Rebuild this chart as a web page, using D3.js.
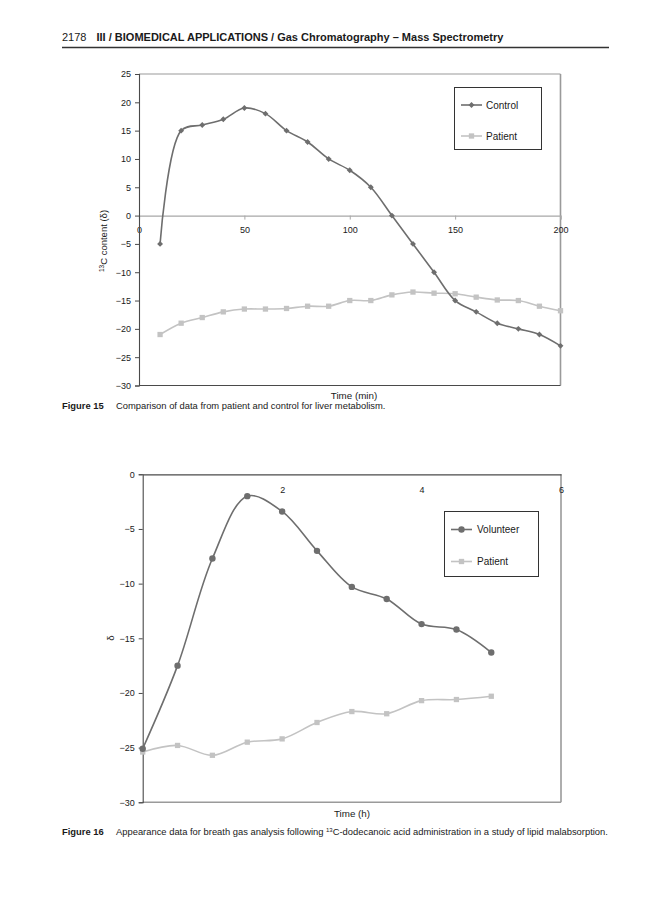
<!DOCTYPE html>
<html>
<head>
<meta charset="utf-8">
<script src="https://cdn.jsdelivr.net/npm/d3@7"></script>
<style>
  html, body { margin: 0; padding: 0; background: #fff; }
  svg { display: block; }
  text { font-family: "Liberation Sans", Arial, Helvetica, sans-serif; fill: #1a1a1a; }
</style>
</head>
<body>
<svg id="page" width="668" height="900"></svg>
<script>
// ---------- DATA ----------
const fig15Times = [10, 20, 30, 40, 50, 60, 70, 80, 90, 100, 110, 120, 130, 140, 150, 160, 170, 180, 190, 200];
const fig15Control = [-5, 15, 16, 17, 19, 18, 15, 13, 10, 8, 5, 0, -5, -10, -15, -17, -19, -20, -21, -23];
const fig15Patient = [-21, -19, -18, -17, -16.5, -16.5, -16.4, -16, -16, -15, -15, -14, -13.5, -13.7, -13.8, -14.4, -14.9, -15, -16, -16.8];
const fig15XTicks = [0, 50, 100, 150, 200];
const fig15YTicks = [25, 20, 15, 10, 5, 0, -5, -10, -15, -20, -25, -30];
const fig15Series = ["Control", "Patient"];

const fig16Times = [0, 0.5, 1, 1.5, 2, 2.5, 3, 3.5, 4, 4.5, 5];
const fig16Volunteer = [-25.1, -17.5, -7.7, -2, -3.4, -7, -10.3, -11.4, -13.7, -14.2, -16.3];
const fig16Patient = [-25.4, -24.8, -25.7, -24.5, -24.2, -22.7, -21.7, -21.9, -20.7, -20.6, -20.3];
const fig16XTicks = [2, 4, 6];
const fig16YTicks = [0, -5, -10, -15, -20, -25, -30];
const fig16Series = ["Volunteer", "Patient"];

// ---------- STYLE ----------
const darkLine = "#6e6e6e";
const lightLine = "#c3c3c3";
const axisDark = "#4a4a4a";
const frameGrey = "#9a9a9a";
const fmt = v => (v < 0 ? "\u2212" + Math.abs(v) : String(v));

const svg = d3.select("#page");
svg.append("rect").attr("width", 668).attr("height", 900).attr("fill", "#fff");

// ---------- HEADER ----------
const hdr = svg.append("text").attr("x", 62).attr("y", 41).attr("font-size", 11);
hdr.append("tspan").text("2178");
hdr.append("tspan").attr("dx", 10).attr("font-weight", "bold")
   .text("III / BIOMEDICAL APPLICATIONS / Gas Chromatography \u2013 Mass Spectrometry");
svg.append("line").attr("x1", 62).attr("x2", 609).attr("y1", 47.5).attr("y2", 47.5)
   .attr("stroke", "#333").attr("stroke-width", 1.3);

const smooth = d3.curveCatmullRom.alpha(0.5);

function diamond(g, x, y, color) {
  g.append("path").attr("d", d3.symbol(d3.symbolDiamond2, 22)()).attr("transform", `translate(${x},${y})`).attr("fill", color);
}
function square(g, x, y, color) {
  g.append("path").attr("d", d3.symbol(d3.symbolSquare, 28)()).attr("transform", `translate(${x},${y})`).attr("fill", color);
}
function circle(g, x, y, color) {
  g.append("circle").attr("cx", x).attr("cy", y).attr("r", 3.2).attr("fill", color);
}

// ================= FIGURE 15 =================
(function () {
  const g = svg.append("g");
  const x = d3.scaleLinear().domain([0, 200]).range([139, 560.5]);
  const y = d3.scaleLinear().domain([-30, 25]).range([385.5, 74]);

  // frame
  g.append("line").attr("x1", x(0)).attr("x2", x(200)).attr("y1", y(25)).attr("y2", y(25)).attr("stroke", frameGrey).attr("stroke-width", 1.2);
  g.append("line").attr("x1", x(200)).attr("x2", x(200)).attr("y1", y(25)).attr("y2", y(-30)).attr("stroke", frameGrey).attr("stroke-width", 1.6);
  g.append("line").attr("x1", x(0)).attr("x2", x(200)).attr("y1", y(-30)).attr("y2", y(-30)).attr("stroke", axisDark).attr("stroke-width", 1.1);

  // x axis at zero
  const xa = g.append("g").attr("transform", `translate(0,${y(0)})`)
    .call(d3.axisBottom(x).tickValues(fig15XTicks).tickSize(4).tickPadding(7).tickFormat(fmt));
  xa.select(".domain").attr("stroke", "#a8a8a8").attr("stroke-width", 1.2);
  xa.selectAll(".tick line").attr("stroke", "#a8a8a8");
  xa.selectAll(".tick text").attr("font-size", 9).attr("fill", "#1a1a1a").attr("font-family", "Liberation Sans, Arial, sans-serif");

  // y axis
  const ya = g.append("g").attr("transform", `translate(${x(0)},0)`)
    .call(d3.axisLeft(y).tickValues(fig15YTicks).tickSize(4).tickPadding(4).tickFormat(fmt));
  ya.select(".domain").attr("stroke", axisDark).attr("stroke-width", 1.1);
  ya.selectAll(".tick line").attr("stroke", axisDark);
  ya.selectAll(".tick text").attr("font-size", 9).attr("fill", "#1a1a1a").attr("font-family", "Liberation Sans, Arial, sans-serif");

  // lines
  const ctrl = fig15Times.map((t, i) => [t, fig15Control[i]]);
  const pat = fig15Times.map((t, i) => [t, fig15Patient[i]]);
  const line = d3.line().x(d => x(d[0])).y(d => y(d[1])).curve(smooth);
  g.append("path").attr("d", line(pat)).attr("fill", "none").attr("stroke", lightLine).attr("stroke-width", 1.6);
  pat.forEach(d => square(g, x(d[0]), y(d[1]), lightLine));
  g.append("path").attr("d", line(ctrl)).attr("fill", "none").attr("stroke", darkLine).attr("stroke-width", 1.6);
  ctrl.forEach(d => diamond(g, x(d[0]), y(d[1]), darkLine));

  // axis titles
  g.append("text").attr("x", 354).attr("y", 399).attr("text-anchor", "middle").attr("font-size", 9.8).text("Time (min)");
  const yl = g.append("text").attr("transform", "translate(107,241) rotate(-90)").attr("text-anchor", "middle").attr("font-size", 9.5);
  yl.append("tspan").attr("font-size", 6.5).attr("dy", -3.5).text("13");
  yl.append("tspan").attr("dy", 3.5).text("C content (\u03b4)");

  // legend
  const lg = g.append("g");
  lg.append("rect").attr("x", 454.5).attr("y", 87.5).attr("width", 87).attr("height", 62).attr("fill", "#fff").attr("stroke", "#333").attr("stroke-width", 1);
  const ly = [105, 136];
  const lc = [darkLine, lightLine];
  fig15Series.forEach((name, i) => {
    lg.append("line").attr("x1", 461).attr("x2", 482).attr("y1", ly[i]).attr("y2", ly[i]).attr("stroke", lc[i]).attr("stroke-width", 1.6);
    if (i === 0) diamond(lg, 471.5, ly[i], lc[i]); else square(lg, 471.5, ly[i], lc[i]);
    lg.append("text").attr("x", 486).attr("y", ly[i] + 3.5).attr("font-size", 10).text(name);
  });

  // caption
  const cap = svg.append("text").attr("x", 62).attr("y", 409).attr("font-size", 9.4);
  cap.append("tspan").attr("font-weight", "bold").text("Figure 15");
  cap.append("tspan").attr("x", 116).text("Comparison of data from patient and control for liver metabolism.");
})();

// ================= FIGURE 16 =================
(function () {
  const g = svg.append("g");
  const x = d3.scaleLinear().domain([0, 6]).range([142.7, 561]);
  const y = d3.scaleLinear().domain([-30, 0]).range([802.3, 474.3]);

  // frame
  g.append("line").attr("x1", x(6)).attr("x2", x(6)).attr("y1", y(0)).attr("y2", y(-30)).attr("stroke", frameGrey).attr("stroke-width", 1.6);
  g.append("line").attr("x1", x(0)).attr("x2", x(6)).attr("y1", y(-30)).attr("y2", y(-30)).attr("stroke", frameGrey).attr("stroke-width", 1.4);

  // x axis along the top (y = 0)
  const xa = g.append("g").attr("transform", `translate(0,${y(0)})`)
    .call(d3.axisBottom(x).tickValues(fig16XTicks).tickSize(0).tickPadding(12).tickFormat(fmt));
  xa.select(".domain").attr("stroke", axisDark).attr("stroke-width", 1.2);
  xa.selectAll(".tick text").attr("font-size", 9).attr("fill", "#1a1a1a").attr("font-family", "Liberation Sans, Arial, sans-serif");

  // y axis
  const ya = g.append("g").attr("transform", `translate(${x(0)},0)`)
    .call(d3.axisLeft(y).tickValues(fig16YTicks).tickSize(4).tickPadding(4).tickFormat(fmt));
  ya.select(".domain").attr("stroke", axisDark).attr("stroke-width", 1.1);
  ya.selectAll(".tick line").attr("stroke", axisDark);
  ya.selectAll(".tick text").attr("font-size", 9).attr("fill", "#1a1a1a").attr("font-family", "Liberation Sans, Arial, sans-serif");

  const vol = fig16Times.map((t, i) => [t, fig16Volunteer[i]]);
  const pat = fig16Times.map((t, i) => [t, fig16Patient[i]]);
  const line = d3.line().x(d => x(d[0])).y(d => y(d[1])).curve(smooth);
  g.append("path").attr("d", line(pat)).attr("fill", "none").attr("stroke", lightLine).attr("stroke-width", 1.6);
  pat.forEach(d => square(g, x(d[0]), y(d[1]), lightLine));
  g.append("path").attr("d", line(vol)).attr("fill", "none").attr("stroke", darkLine).attr("stroke-width", 1.6);
  vol.forEach(d => circle(g, x(d[0]), y(d[1]), darkLine));

  g.append("text").attr("x", 352).attr("y", 817).attr("text-anchor", "middle").attr("font-size", 9.8).text("Time (h)");
  g.append("text").attr("transform", "translate(114,638) rotate(-90)").attr("text-anchor", "middle").attr("font-size", 9.5).text("\u03b4");

  // legend
  const lg = g.append("g");
  lg.append("rect").attr("x", 444.5).attr("y", 511.5).attr("width", 94).attr("height", 65).attr("fill", "#fff").attr("stroke", "#333").attr("stroke-width", 1);
  const ly = [529.5, 561.5];
  const lc = [darkLine, lightLine];
  fig16Series.forEach((name, i) => {
    lg.append("line").attr("x1", 451).attr("x2", 472).attr("y1", ly[i]).attr("y2", ly[i]).attr("stroke", lc[i]).attr("stroke-width", 1.6);
    if (i === 0) circle(lg, 461.5, ly[i], lc[i]); else square(lg, 461.5, ly[i], lc[i]);
    lg.append("text").attr("x", 477).attr("y", ly[i] + 3.5).attr("font-size", 10).text(name);
  });

  const cap = svg.append("text").attr("x", 62).attr("y", 835).attr("font-size", 9.4);
  cap.append("tspan").attr("font-weight", "bold").text("Figure 16");
  cap.append("tspan").attr("x", 116).text("Appearance data for breath gas analysis following ");
  cap.append("tspan").attr("font-size", 6).attr("dy", -3).text("13");
  cap.append("tspan").attr("dy", 3).text("C-dodecanoic acid administration in a study of lipid malabsorption.");
})();
</script>
</body>
</html>
